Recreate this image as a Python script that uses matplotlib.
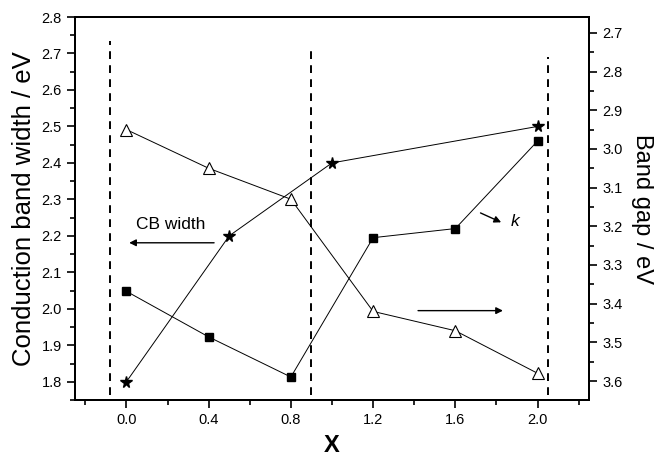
import matplotlib
matplotlib.use("Agg")
import matplotlib.pyplot as plt
from matplotlib.ticker import MultipleLocator

plt.rcParams['font.family'] = ['Liberation Sans', 'DejaVu Sans']

# data
x_tri = [0.0, 0.4, 0.8, 1.2, 1.6, 2.0]
band_gap = [2.95, 3.05, 3.13, 3.42, 3.47, 3.58]
x_star = [0.0, 0.5, 1.0, 2.0]
cb_width = [1.80, 2.20, 2.40, 2.50]
x_sq = [0.0, 0.4, 0.8, 1.2, 1.6, 2.0]
k_vals = [2.048, 1.923, 1.813, 2.195, 2.22, 2.46]
boundaries = [-0.08, 0.90, 2.05]
boundary_tops = [2.735, 2.715, 2.69]
x_ticks = [0.0, 0.4, 0.8, 1.2, 1.6, 2.0]

fig = plt.figure(figsize=(6.54, 4.62), dpi=100)
ax = fig.add_axes([75/654, 62/462, (589-75)/654, (400-17)/462])
ax.set_xlim(-0.25, 2.25)
ax.set_ylim(1.75, 2.8)

for xb, yt in zip(boundaries, boundary_tops):
    ax.plot([xb, xb], [1.763, yt], color='black', lw=1.4, ls=(0, (4, 3.2)))

ax.plot(x_sq, k_vals, color='black', lw=0.7, marker='s', ms=6, mfc='black', mec='black', zorder=3)
ax.plot(x_star, cb_width, color='black', lw=0.7, marker='*', ms=8.5, mfc='black', mec='black', zorder=3)

ax2 = ax.twinx()
ax2.set_ylim(3.649, 2.659)
ax2.plot(x_tri, band_gap, color='black', lw=0.7, marker='^', ms=8.5, mfc='white', mec='black', mew=0.8, zorder=3)

# annotations
ax.annotate('', xy=(0.0, 2.181), xytext=(0.44, 2.181),
            arrowprops=dict(arrowstyle='-|>', color='black', lw=1.0, mutation_scale=10))
ax.text(0.215, 2.232, 'CB width', fontsize=12.5, ha='center', va='center')
ax.annotate('', xy=(1.835, 2.234), xytext=(1.71, 2.266),
            arrowprops=dict(arrowstyle='-|>', color='black', lw=1.0, mutation_scale=10))
ax.text(1.89, 2.238, 'k', fontsize=12.5, style='italic', ha='center', va='center')
ax.annotate('', xy=(1.845, 1.995), xytext=(1.405, 1.995),
            arrowprops=dict(arrowstyle='-|>', color='black', lw=1.0, mutation_scale=10))

# ticks and axes
ax.set_xticks(x_ticks)
ax.set_xticklabels([f'{v:.1f}' for v in x_ticks])
ax.xaxis.set_minor_locator(MultipleLocator(0.2))
ax.yaxis.set_major_locator(MultipleLocator(0.1))
ax.yaxis.set_minor_locator(MultipleLocator(0.05))
ax2.yaxis.set_major_locator(MultipleLocator(0.1))
ax2.yaxis.set_minor_locator(MultipleLocator(0.05))

for a in (ax, ax2):
    for s in a.spines.values():
        s.set_linewidth(1.4)
    a.tick_params(which='major', direction='out', length=6, width=1.2, labelsize=10.5)
    a.tick_params(which='minor', direction='out', length=3.5, width=1.2)
ax.tick_params(axis='x', which='both', top=False)

ax.set_xlabel('X', fontsize=17, fontweight='bold', labelpad=5)
ax.set_ylabel('Conduction band width / eV', fontsize=18.5, labelpad=4)
ax2.set_ylabel('Band gap / eV', fontsize=17, rotation=270, labelpad=22)

fig.savefig('out.png', dpi=100)
